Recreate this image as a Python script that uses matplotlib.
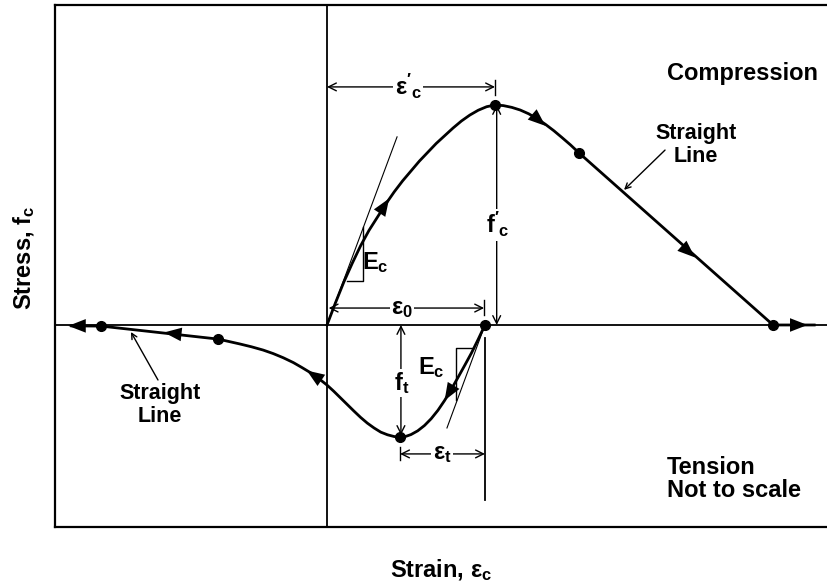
import matplotlib
matplotlib.use("Agg")
import matplotlib.pyplot as plt

plt.rcParams["font.family"] = ["Liberation Sans", "DejaVu Sans"]
plt.rcParams["font.weight"] = "bold"
plt.rcParams["mathtext.fontset"] = "custom"
plt.rcParams["mathtext.rm"] = "Liberation Sans"
plt.rcParams["mathtext.bf"] = "Liberation Sans:bold"
plt.rcParams["mathtext.it"] = "Liberation Sans:italic"

# normalised strain (eps / eps'_c) and stress (f / f'_c)
asc_strain = [0, 0.05, 0.1, 0.15, 0.2, 0.25, 0.3, 0.35, 0.4, 0.45, 0.5,
              0.55, 0.6, 0.65, 0.7, 0.75, 0.8, 0.85, 0.9, 0.95, 1.0]
asc_stress = [0, 0.10, 0.195, 0.28, 0.36, 0.43, 0.49, 0.55, 0.605, 0.655, 0.70,
              0.745, 0.785, 0.825, 0.86, 0.895, 0.927, 0.954, 0.976, 0.992, 1.0]

desc_strain = [1.0, 1.05, 1.1, 1.15, 1.2, 1.25, 1.3, 1.35, 1.4, 1.45, 1.5,
               2.655, 2.9]
desc_stress = [1.0, 0.997, 0.989, 0.977, 0.960, 0.938, 0.912, 0.883, 0.851,
               0.818, 0.782, 0.0, 0.0]

tens_strain = [0.94, 0.90, 0.86, 0.82, 0.78, 0.74, 0.70, 0.66, 0.62, 0.58,
               0.54, 0.50, 0.47, 0.435, 0.40, 0.36, 0.32, 0.28, 0.24, 0.20,
               0.16, 0.12, 0.08, 0.04, 0.0, -0.05, -0.10, -0.15, -0.20, -0.26,
               -0.32, -0.38, -0.45, -0.52, -0.59, -0.649, -1.345, -1.52]
tens_stress = [0, -0.065, -0.127, -0.183, -0.238, -0.292, -0.343, -0.388,
               -0.426, -0.457, -0.481, -0.498, -0.506, -0.509, -0.507, -0.499,
               -0.487, -0.468, -0.446, -0.42, -0.391, -0.361, -0.331, -0.301,
               -0.273, -0.243, -0.216, -0.193, -0.171, -0.149, -0.13, -0.114,
               -0.099, -0.086, -0.074, -0.064, -0.005, -0.004]

key_strain = [1.0, 1.5, 2.655, 0.94, 0.435, -0.649, -1.345]
key_stress = [1.0, 0.782, 0.0, 0.0, -0.509, -0.064, -0.005]

fig = plt.figure(figsize=(8.27, 5.83), dpi=100)
ax = fig.add_axes([0.0665, 0.0961, 0.9335, 0.8954])
ax.set_xlim(-1.619, 2.976)
ax.set_ylim(-0.918, 1.4545)
ax.set_xticks([])
ax.set_yticks([])
for side in ["left", "top", "bottom"]:
    ax.spines[side].set_linewidth(1.6)
ax.spines["right"].set_visible(False)

# axes through the origin
ax.axhline(0, color="k", lw=1.3)
ax.axvline(0, color="k", lw=1.3)

# the stress-strain curve
ax.plot(asc_strain, asc_stress, color="k", lw=2)
ax.plot(desc_strain, desc_stress, color="k", lw=2)
ax.plot(tens_strain, tens_stress, color="k", lw=2)
ax.plot(key_strain, key_stress, "o", color="k", ms=7)


def head(tip, tail):
    ax.annotate("", xy=tip, xytext=tail,
                arrowprops=dict(arrowstyle="-|>,head_length=0.9,head_width=0.35",
                                color="k", lw=0, shrinkA=0, shrinkB=0,
                                mutation_scale=14))


head((0.37, 0.575), (0.31, 0.505))
head((1.30, 0.905), (1.25, 0.938))
head((2.19, 0.307), (2.13, 0.348))
head((2.86, 0.0), (2.78, 0.0))
head((0.70, -0.343), (0.74, -0.292))
head((-0.12, -0.207), (-0.06, -0.238))
head((-0.97, -0.034), (-0.90, -0.04))
head((-1.54, -0.004), (-1.47, -0.004))


def dim(p1, p2):
    ax.annotate("", xy=p2, xytext=p1,
                arrowprops=dict(arrowstyle="<->", color="k", lw=1.0,
                                shrinkA=0, shrinkB=0, mutation_scale=14))


white = dict(fc="white", ec="none", pad=1)
txt = dict(ha="center", va="center", fontsize=17, fontweight="bold")

dim((0.0, 1.082), (1.0, 1.082))
ax.plot([1.0, 1.0], [1.045, 1.114], color="k", lw=1)
ax.text(0.482, 1.082, r"$\mathrm{ε}'_\mathbf{c}$", bbox=white, **txt)

dim((1.01, 1.0), (1.01, 0.0))
ax.text(1.018, 0.455, r"$\mathbf{f}'_\mathbf{c}$", bbox=white, **txt)

dim((0.01, 0.077), (0.935, 0.077))
ax.plot([0.935, 0.935], [0.045, 0.114], color="k", lw=1)
ax.text(0.446, 0.077, r"$\mathrm{ε}_\mathbf{0}$", bbox=white, **txt)

dim((0.44, 0.0), (0.44, -0.50))
ax.text(0.446, -0.264, r"$\mathbf{f}_\mathbf{t}$", bbox=white, **txt)

dim((0.435, -0.586), (0.94, -0.586))
ax.plot([0.435, 0.435], [-0.555, -0.615], color="k", lw=1)
ax.plot([0.94, 0.94], [-0.06, -0.795], color="k", lw=1.3)
ax.text(0.685, -0.586, r"$\mathrm{ε}_\mathbf{t}$", bbox=white, **txt)

# initial tangent (modulus) in compression and tension
ax.plot([0.0, 0.417], [0.0, 0.855], color="k", lw=0.8)
ax.plot([0.119, 0.214, 0.214], [0.2, 0.2, 0.445], color="k", lw=1)
ax.text(0.286, 0.286, r"$\mathbf{E_c}$", **txt)

ax.plot([0.94, 0.714], [0.0, -0.468], color="k", lw=0.8)
ax.plot([0.768, 0.768, 0.875], [-0.341, -0.105, -0.105], color="k", lw=1)
ax.text(0.619, -0.195, r"$\mathbf{E_c}$", **txt)

# notes
ax.text(2.476, 1.145, "Compression", ha="center", va="center", fontsize=17)
ax.text(2.024, -0.70, "Tension\nNot to scale", ha="left", va="center",
        fontsize=17, linespacing=1.05)

note = dict(ha="center", va="center", fontsize=15.5, linespacing=1.1)
pointer = dict(arrowstyle="->", color="k", lw=1, shrinkA=0, shrinkB=0)
ax.text(2.196, 0.818, "Straight\nLine", **note)
ax.annotate("", xy=(1.768, 0.614), xytext=(2.012, 0.795), arrowprops=pointer)
ax.text(-0.994, -0.364, "Straight\nLine", **note)
ax.annotate("", xy=(-1.167, -0.032), xytext=(-1.006, -0.25), arrowprops=pointer)

fig.text(24 / 827, 1 - 258 / 583, r"Stress, $\mathbf{f_c}$", rotation=90,
         ha="center", va="center", fontsize=17, fontweight="bold")
fig.text(441 / 827, 1 - 570 / 583, r"Strain, $\mathrm{ε}_\mathbf{c}$",
         ha="center", va="center", fontsize=17, fontweight="bold")

fig.savefig("out.png", dpi=100)
